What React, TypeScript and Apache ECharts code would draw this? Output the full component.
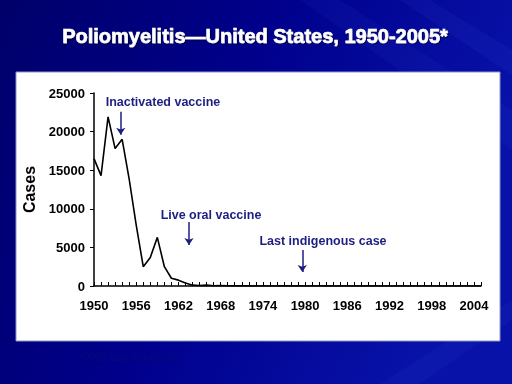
import React, { useEffect, useRef } from "react";
import * as echarts from "echarts";

const years: number[] = [];
for (let y = 1950; y <= 2005; y++) years.push(y);

const cases: number[] = [
  16500, 14300, 21900, 17800, 19000, 13850, 7900, 2500, 3700, 6300,
  2500, 1000, 760, 400, 110, 60, 110, 40, 50, 20,
  30, 20, 30, 8, 7, 8, 10, 18, 9, 22,
  8, 6, 8, 13, 8, 7, 5, 9, 9, 11,
  6, 9, 6, 4, 8, 7, 7, 6, 3, 2,
  0, 0, 0, 0, 0, 1,
];

const annotations = [
  { text: "Inactivated vaccine", year: 1953.8, from: 22570, to: 19580 },
  { text: "Live oral vaccine", year: 1963.5, from: 8300, to: 5320 },
  { text: "Last indigenous case", year: 1979.6, from: 4670, to: 1815 },
];
const annotationPos = [
  { x: 163, y: 102 },
  { x: 211, y: 215 },
  { x: 323, y: 241 },
];

const yTicks = [0, 5000, 10000, 15000, 20000, 25000];

export default function App() {
  const ref = useRef<HTMLDivElement>(null);
  useEffect(() => {
    if (!ref.current) return;
    const chart = echarts.init(ref.current, undefined, { renderer: "svg" });
    const font = "'Liberation Sans', Arial, sans-serif";
    const navy = "#1e1e82";
    chart.setOption({
      animation: false,
      graphic: [
        {
          type: "rect",
          z: -10,
          silent: true,
          shape: { x: 0, y: 0, width: 512, height: 384 },
          style: {
            fill: new echarts.graphic.LinearGradient(0, 0, 1, 0.3, [
              { offset: 0, color: "#00006a" },
              { offset: 0.5, color: "#00008c" },
              { offset: 1, color: "#0812a8" },
            ]),
          },
        },
        {
          type: "polygon",
          z: -9,
          silent: true,
          shape: { points: [[300, 0], [340, 0], [512, 110], [512, 150]] },
          style: { fill: "rgba(90,120,255,0.06)" },
        },
        {
          type: "polygon",
          z: -9,
          silent: true,
          shape: { points: [[400, 0], [430, 0], [512, 50], [512, 75]] },
          style: { fill: "rgba(90,120,255,0.07)" },
        },
        {
          type: "polygon",
          z: -9,
          silent: true,
          shape: { points: [[380, 384], [512, 300], [512, 320], [420, 384]] },
          style: { fill: "rgba(90,120,255,0.05)" },
        },
        {
          type: "rect",
          z: -5,
          silent: true,
          shape: { x: 16, y: 72, width: 484, height: 269 },
          style: { fill: "#ffffff", stroke: "#8a96c8", lineWidth: 1 },
        },
        {
          type: "text",
          x: 255,
          y: 36,
          style: {
            text: "Poliomyelitis\u2014United States, 1950-2005*",
            fill: "#ffffff",
            font: `bold 20px ${font}`,
            textAlign: "center",
            textVerticalAlign: "middle",
            stroke: "#ffffff",
            lineWidth: 0.6,
            textShadowColor: "rgba(0,0,0,0.6)",
            textShadowOffsetX: 1,
            textShadowOffsetY: 1,
            textShadowBlur: 1,
          },
        },
        ...annotations.map((a, i) => ({
          type: "text",
          x: annotationPos[i].x,
          y: annotationPos[i].y,
          style: {
            text: a.text,
            fill: navy,
            font: `bold 12.5px ${font}`,
            textAlign: "center",
            textVerticalAlign: "middle",
          },
        })),
        {
          type: "text",
          x: 80,
          y: 357,
          style: {
            text: "*2005 data provisional",
            fill: "#08087a",
            font: `10px ${font}`,
            textAlign: "left",
            textVerticalAlign: "middle",
          },
        },
      ],
      grid: { left: 94, right: 31, top: 93, bottom: 98 },
      xAxis: {
        type: "value",
        min: 1950,
        max: 2005,
        interval: 1,
        axisLine: { lineStyle: { color: "#000", width: 1.5 } },
        axisTick: { inside: true, length: 4, lineStyle: { color: "#000", width: 1 } },
        axisLabel: {
          margin: 13,
          color: "#000",
          fontFamily: font,
          fontWeight: "bold",
          fontSize: 13,
          formatter: (v: number) => ((v - 1950) % 6 === 0 ? String(v) : ""),
        },
        splitLine: { show: false },
      },
      yAxis: {
        type: "value",
        min: yTicks[0],
        max: yTicks[yTicks.length - 1],
        interval: 5000,
        name: "Cases",
        nameLocation: "middle",
        nameRotate: 90,
        nameGap: 51,
        nameTextStyle: { color: "#000", fontFamily: font, fontWeight: "bold", fontSize: 16 },
        axisLine: { show: true, lineStyle: { color: "#000", width: 1.5 } },
        axisTick: { show: true, length: 4, lineStyle: { color: "#000" } },
        axisLabel: {
          margin: 9,
          color: "#000",
          fontFamily: font,
          fontWeight: "bold",
          fontSize: 13,
          formatter: (v: number) => String(v),
        },
        splitLine: { show: false },
      },
      series: [
        {
          type: "line",
          data: years.map((y, i) => [y, cases[i]]),
          showSymbol: false,
          symbol: "none",
          lineStyle: { color: "#000", width: 1.6 },
          z: 3,
          markLine: {
            silent: true,
            symbol: ["none", "arrow"],
            symbolSize: 7,
            label: { show: false },
            lineStyle: { color: navy, width: 1.5, type: "solid" },
            data: annotations.map((a) => [
              { coord: [a.year, a.from] },
              { coord: [a.year, a.to] },
            ]),
          },
        },
      ],
    });
    return () => chart.dispose();
  }, []);
  return (
    <div
      ref={ref}
      style={{ position: "fixed", left: 0, top: 0, width: 512, height: 384 }}
    />
  );
}
